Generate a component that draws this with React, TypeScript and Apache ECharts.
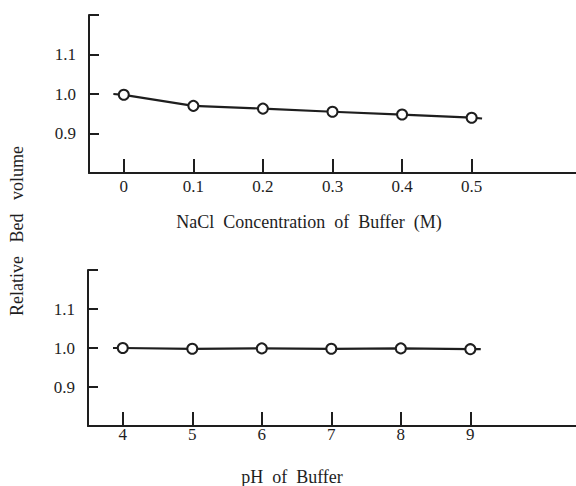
import React, { useEffect, useRef } from "react";
import * as echarts from "echarts";

const naclConc = [0, 0.1, 0.2, 0.3, 0.4, 0.5];
const naclBedVolume = [0.998, 0.97, 0.963, 0.955, 0.948, 0.94];
const naclLineLead: [number, number] = [-0.015, 1.0];
const naclLineTail: [number, number] = [0.515, 0.938];

const phValues = [4, 5, 6, 7, 8, 9];
const phBedVolume = [1.0, 0.998, 0.999, 0.998, 0.999, 0.997];
const phLineLead: [number, number] = [3.86, 1.0];
const phLineTail: [number, number] = [9.15, 0.997];

const yTickLabels = [0.9, 1.0, 1.1];
const yTickMarks = [0.9, 1.0, 1.1, 1.2];

const FONT = "'Liberation Serif', 'DejaVu Serif', serif";
const INK = "#1e1e1e";
const FS = 17;
const NAME_FS = 18;

export default function App() {
  const ref = useRef<HTMLDivElement>(null);
  useEffect(() => {
    if (!ref.current) return;
    const chart = echarts.init(ref.current, null, { renderer: "svg" });

    const yAxisBase = (gridIndex: number) => ({
      type: "value",
      gridIndex,
      min: 0.8,
      max: 1.2,
      interval: 0.1,
      splitLine: { show: false },
      axisLine: { show: true, onZero: false, lineStyle: { color: INK, width: 2 } },
      axisTick: {
        show: true,
        inside: true,
        length: 10,
        lineStyle: { color: INK, width: 2 },
        customValues: yTickMarks,
      },
      axisLabel: {
        show: true,
        customValues: yTickLabels,
        formatter: (v: number) => v.toFixed(1),
        color: INK,
        fontFamily: FONT,
        fontSize: FS,
        margin: 13,
      },
    });

    const xAxisBase = (
      gridIndex: number,
      min: number,
      max: number,
      ticks: number[],
      fmt: (v: number) => string,
      margin: number
    ) => ({
      type: "value",
      gridIndex,
      min,
      max,
      splitLine: { show: false },
      axisLine: { show: true, onZero: false, lineStyle: { color: INK, width: 2 } },
      axisTick: {
        show: true,
        inside: true,
        length: 14,
        lineStyle: { color: INK, width: 2 },
        customValues: ticks,
      },
      axisLabel: {
        show: true,
        customValues: ticks,
        formatter: fmt,
        color: INK,
        fontFamily: FONT,
        fontSize: FS,
        margin,
      },
    });

    const lineSeries = (
      idx: number,
      xs: number[],
      ys: number[],
      lead: [number, number],
      tail: [number, number]
    ) => ({
      type: "line",
      xAxisIndex: idx,
      yAxisIndex: idx,
      data: [
        { value: lead, symbol: "none" },
        ...xs.map((x, i) => ({ value: [x, ys[i]] })),
        { value: tail, symbol: "none" },
      ],
      symbol: "circle",
      symbolSize: 10,
      lineStyle: { color: INK, width: 2.2 },
      itemStyle: { color: "#ffffff", borderColor: INK, borderWidth: 2 },
      z: 3,
    });

    chart.setOption({
      animation: false,
      backgroundColor: "#ffffff",
      grid: [
        { left: 89, top: 15, width: 487, height: 158 },
        { left: 88, top: 270, width: 488, height: 156 },
      ],
      xAxis: [
        xAxisBase(0, -0.05, 0.65, naclConc, (v) => (v === 0 ? "0" : v.toFixed(1)), 5),
        xAxisBase(1, 3.5, 10.52, phValues, (v) => String(v), 0),
      ],
      yAxis: [yAxisBase(0), yAxisBase(1)],
      series: [
        lineSeries(0, naclConc, naclBedVolume, naclLineLead, naclLineTail),
        lineSeries(1, phValues, phBedVolume, phLineLead, phLineTail),
      ],
      graphic: [
        {
          type: "text",
          x: 309,
          y: 222,
          style: {
            text: "NaCl  Concentration  of  Buffer  (M)",
            fill: INK,
            fontFamily: FONT,
            fontSize: NAME_FS,
            align: "center",
            verticalAlign: "middle",
          },
        },
        {
          type: "text",
          x: 292,
          y: 477,
          style: {
            text: "pH  of  Buffer",
            fill: INK,
            fontFamily: FONT,
            fontSize: NAME_FS,
            align: "center",
            verticalAlign: "middle",
          },
        },
        {
          type: "text",
          x: 17,
          y: 231,
          rotation: Math.PI / 2,
          style: {
            text: "Relative   Bed   volume",
            fill: INK,
            fontFamily: FONT,
            fontSize: NAME_FS,
            align: "center",
            verticalAlign: "middle",
          },
        },
      ],
    });
    return () => chart.dispose();
  }, []);

  return <div ref={ref} style={{ width: 576, height: 486, position: "absolute", left: 0, top: 0 }} />;
}
